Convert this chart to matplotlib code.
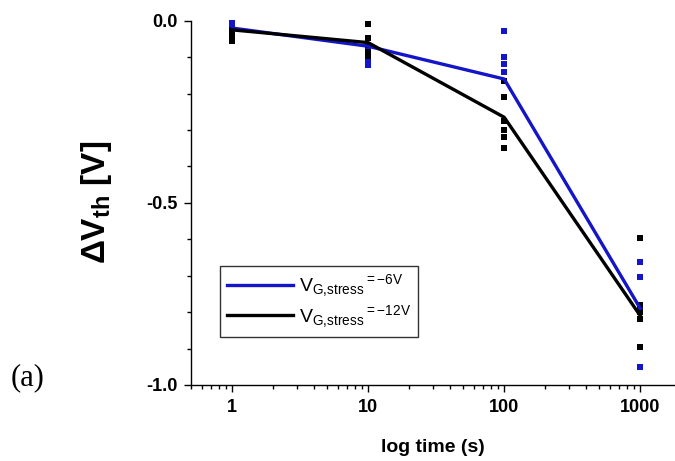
import numpy as np
import matplotlib.pyplot as plt
from matplotlib.ticker import FixedLocator, LogLocator, NullFormatter

plt.rcParams['font.family'] = 'Liberation Sans'
plt.rcParams['mathtext.default'] = 'regular'

# stress time (s)
times = [1, 10, 100, 1000]

# mean threshold-voltage shift per stress condition
mean_6v = [-0.02, -0.07, -0.16, -0.79]
mean_12v = [-0.025, -0.06, -0.265, -0.81]

# individual device measurements (time, dVth)
pts_6v_t = [1, 1, 10, 10, 10, 10, 100, 100, 100, 100, 1000, 1000, 1000, 1000, 1000]
pts_6v_v = [-0.005, -0.012, -0.069, -0.088, -0.107, -0.121,
            -0.029, -0.10, -0.12, -0.14,
            -0.662, -0.703, -0.79, -0.80, -0.95]
pts_12v_t = [1, 1, 1, 1, 10, 10, 10, 10, 10, 100, 100, 100, 100, 100, 100,
             1000, 1000, 1000, 1000, 1000]
pts_12v_v = [-0.025, -0.035, -0.045, -0.055,
             -0.008, -0.047, -0.066, -0.085, -0.096,
             -0.165, -0.21, -0.275, -0.30, -0.32, -0.35,
             -0.596, -0.78, -0.80, -0.82, -0.895]

blue = '#1414c8'
black = '#000000'

fig = plt.figure(figsize=(6.75, 4.61), dpi=100)
ax = fig.add_axes([0.283, 0.165, 0.717, 0.79])

ax.plot(pts_6v_t, pts_6v_v, 's', color=blue, ms=5, mew=0, clip_on=False)
ax.plot(pts_12v_t, pts_12v_v, 's', color=black, ms=5, mew=0, clip_on=False)
ax.plot(times, mean_6v, '-', color=blue, lw=2.4, label=r'$V_{G{,}stress}{}^{=-6V}$')
ax.plot(times, mean_12v, '-', color=black, lw=2.4, label=r'$V_{G{,}stress}{}^{=-12V}$')

ax.set_xscale('log')
ax.set_xlim(0.5, 1800)
ax.set_ylim(-1.0, 0.0)
ax.xaxis.set_major_locator(FixedLocator([1, 10, 100, 1000]))
ax.set_xticklabels(['1', '10', '100', '1000'])
ax.xaxis.set_minor_locator(LogLocator(base=10, subs=np.arange(2, 10)))
ax.xaxis.set_minor_formatter(NullFormatter())
ax.set_yticks([0.0, -0.5, -1.0])
ax.set_yticklabels(['0.0', '-0.5', '-1.0'])
ax.yaxis.set_minor_locator(FixedLocator(np.arange(-0.9, 0, 0.1)))

for s in ['top', 'right']:
    ax.spines[s].set_visible(False)
for s in ['left', 'bottom']:
    ax.spines[s].set_linewidth(1.0)

ax.tick_params(which='major', direction='out', length=5, width=1, labelsize=13, pad=5)
ax.tick_params(which='minor', direction='out', length=3, width=1)
for lab in ax.get_xticklabels() + ax.get_yticklabels():
    lab.set_fontweight('bold')

ax.set_xlabel('log time (s)', fontsize=14, fontweight='bold', labelpad=17)
ax.set_ylabel(r'ΔV$_{th}$ [V]', fontsize=24, fontweight='bold')
ax.yaxis.set_label_coords(-0.16, 0.5)

leg = ax.legend(loc='upper left', bbox_to_anchor=(0.06, 0.327), borderaxespad=0,
                fontsize=14, handlelength=3.4, handletextpad=0.3, frameon=True,
                fancybox=False, edgecolor='black', borderpad=0.35, labelspacing=0.2)
leg.get_frame().set_linewidth(1.0)

fig.text(0.015, 0.165, '(a)', fontsize=22, family='Liberation Serif')

fig.savefig('out.png', dpi=100)
